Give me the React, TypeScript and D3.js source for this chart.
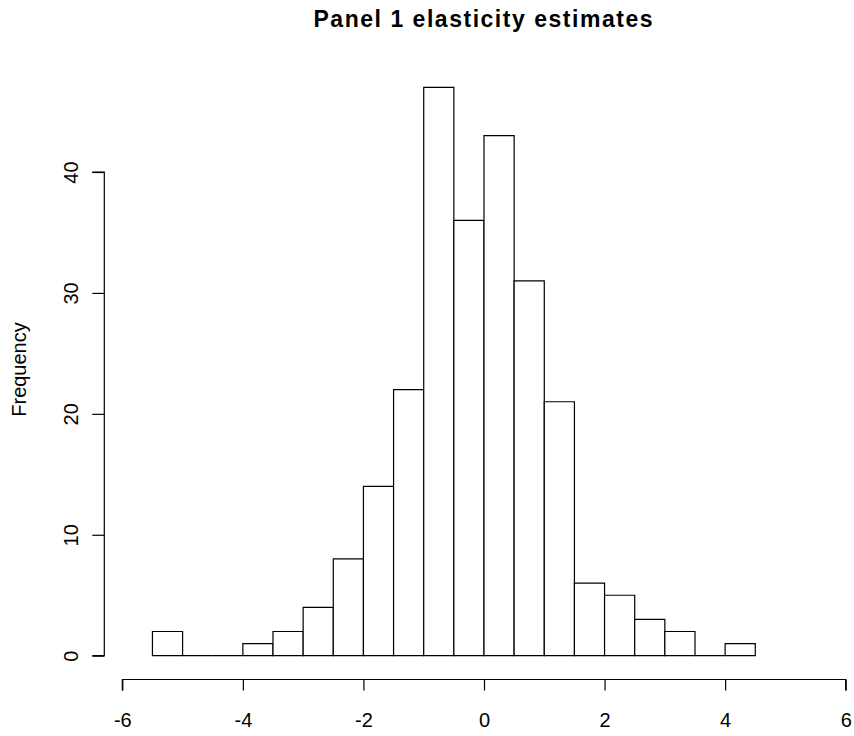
import React, { useEffect, useRef } from 'react';
import * as d3 from 'd3';

// bin edges (width 0.5) and counts
const binStarts = [-5.5, -5, -4.5, -4, -3.5, -3, -2.5, -2, -1.5, -1, -0.5, 0, 0.5, 1, 1.5, 2, 2.5, 3, 3.5, 4];
const counts = [2, 0, 0, 1, 2, 4, 8, 14, 22, 47, 36, 43, 31, 21, 6, 5, 3, 2, 0, 1];
const binWidth = 0.5;
const xTicks = [-6, -4, -2, 0, 2, 4, 6];
const yTicks = [0, 10, 20, 30, 40];
const title = 'Panel 1 elasticity estimates';
const yLabel = 'Frequency';

const App = () => {
  const ref = useRef<SVGSVGElement>(null);

  useEffect(() => {
    const svg = d3.select(ref.current);
    svg.selectAll('*').remove();
    const font = '"Liberation Sans", Arial, sans-serif';

    const x = d3.scaleLinear().domain([-6, 6]).range([122.3, 845.7]);
    const y = d3.scaleLinear().domain([0, 40]).range([655.7, 172]);

    // bars (paths so empty bins still show as a flat line)
    svg.append('g')
      .selectAll('path')
      .data(counts)
      .join('path')
      .attr('d', (d, i) => {
        const x0 = x(binStarts[i]);
        const x1 = x(binStarts[i] + binWidth);
        return `M${x0},${y(0)}V${y(d)}H${x1}V${y(0)}Z`;
      })
      .attr('fill', 'white')
      .attr('stroke', 'black')
      .attr('stroke-width', 1.2);

    // x axis
    const xAxis = d3.axisBottom(x).tickValues(xTicks).tickSize(11).tickPadding(0).tickFormat(d3.format('d'));
    const gx = svg.append('g').attr('transform', 'translate(0,679.5)').call(xAxis);
    gx.select('.domain').attr('d', `M${x(-6)},11V0H${x(6)}V11`).attr('stroke-width', 1.2);
    gx.selectAll('line').attr('stroke-width', 1.2);
    gx.selectAll('text')
      .attr('y', 47)
      .attr('dy', null)
      .attr('fill', 'black')
      .style('font-family', font)
      .style('font-size', '20px')
      .text(d => String(d).replace('−', '-'));

    // y axis
    const yAxis = d3.axisLeft(y).tickValues(yTicks).tickSize(12).tickPadding(0);
    const gy = svg.append('g').attr('transform', 'translate(104.3,0)').call(yAxis);
    gy.select('.domain').attr('d', `M-12,${y(40)}H0V${y(0)}H-12`).attr('stroke-width', 1.2);
    gy.selectAll('line').attr('stroke-width', 1.2);
    gy.selectAll('text')
      .attr('x', null)
      .attr('y', null)
      .attr('dy', null)
      .attr('text-anchor', 'middle')
      .attr('transform', 'translate(-26,0) rotate(-90)')
      .attr('fill', 'black')
      .style('font-family', font)
      .style('font-size', '20px');

    // title
    svg.append('text')
      .attr('x', 483)
      .attr('y', 26.7)
      .attr('text-anchor', 'middle')
      .attr('textLength', 339)
      .attr('lengthAdjust', 'spacing')
      .style('font-family', font)
      .style('font-weight', 'bold')
      .style('font-size', '23px')
      .text(title);

    // y label
    svg.append('text')
      .attr('transform', `translate(26,369.5) rotate(-90)`)
      .attr('text-anchor', 'middle')
      .style('font-family', font)
      .style('font-size', '20px')
      .text(yLabel);
  }, []);

  return (
    <svg ref={ref} width={854} height={736} style={{ position: 'absolute', left: 0, top: 0, background: 'white' }} />
  );
};

export default App;
